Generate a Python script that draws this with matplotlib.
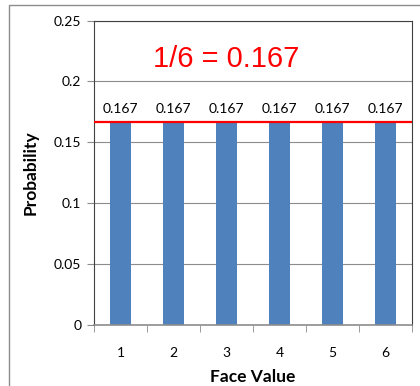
import matplotlib.pyplot as plt
from matplotlib.patches import Rectangle
from matplotlib.ticker import FixedLocator

faces = [1, 2, 3, 4, 5, 6]
probs = [0.167, 0.167, 0.167, 0.167, 0.167, 0.167]
expected = 1 / 6
y_ticks = [0, 0.05, 0.1, 0.15, 0.2, 0.25]
y_tick_labels = ["0", "0.05", "0.1", "0.15", "0.2", "0.25"]

plt.rcParams["font.family"] = ["Lato", "DejaVu Sans"]

fig = plt.figure(figsize=(4.2, 3.86), dpi=100)
# chart-area border (open to the right and bottom)
fig.patches.append(Rectangle((9 / 420, -0.1), 1.2, (386 - 5) / 386 + 0.1,
                             transform=fig.transFigure, fill=False,
                             edgecolor="#8c8c8c", linewidth=1.0))

ax = fig.add_axes([94 / 420, 61.3 / 386, 318 / 420, 304 / 386])
x = list(range(len(faces)))
ax.bar(x, probs, width=0.4, color="#4f81bd", zorder=2)
for xi, p in zip(x, probs):
    ax.text(xi, p + 0.0055, f"{p:.3f}", ha="center", va="bottom", fontsize=10)

ax.axhline(expected, color="#ff0000", linewidth=1.6, zorder=3)
ax.text(2.0, 0.2185, "1/6 = 0.167", color="#ff0000", fontsize=21,
        family="Liberation Sans", ha="center", va="center")

ax.set_xlim(-0.5, 5.5)
ax.set_ylim(0, 0.25)
ax.set_yticks(y_ticks)
ax.set_yticklabels(y_tick_labels)
ax.set_xticks(x)
ax.set_xticklabels([str(v) for v in faces])
ax.xaxis.set_minor_locator(FixedLocator([i - 0.5 for i in range(7)]))
ax.tick_params(axis="x", which="major", length=0, pad=16, labelsize=10)
ax.tick_params(axis="x", which="minor", length=5, color="#8c8c8c")
ax.tick_params(axis="y", length=5, color="#8c8c8c", labelsize=10, pad=4)
ax.grid(axis="y", color="#8c8c8c", linewidth=0.8, zorder=0)
for side in ["top", "right", "left"]:
    ax.spines[side].set_color("#404040")
    ax.spines[side].set_linewidth(0.8)
ax.spines["bottom"].set_color("#8c8c8c")
ax.spines["bottom"].set_linewidth(1.2)

ax.set_xlabel("Face Value", fontsize=12.5, fontweight="bold", labelpad=7)
ax.set_ylabel("Probability", fontsize=12.5, fontweight="bold", labelpad=11)

fig.savefig("out.png", dpi=100)
